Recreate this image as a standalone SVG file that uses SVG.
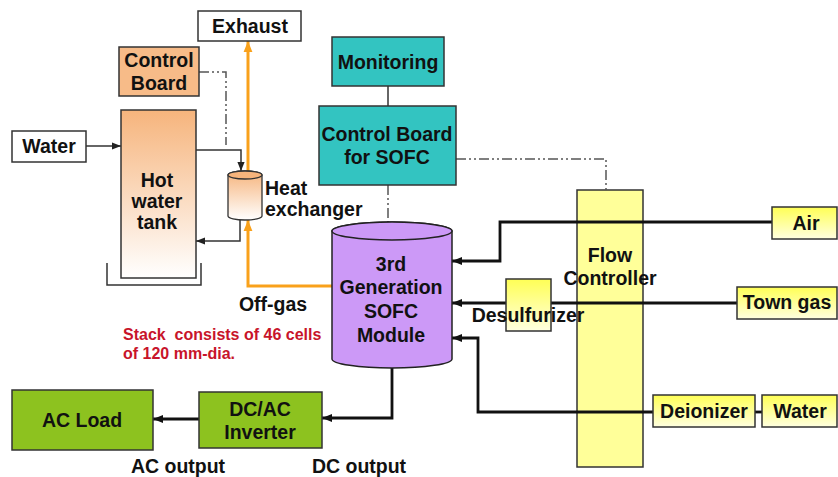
<svg xmlns="http://www.w3.org/2000/svg" width="838" height="477" viewBox="0 0 838 477">
<defs>
<style>
text{font-family:"Liberation Sans",Arial,sans-serif;font-weight:bold;font-size:19.5px;fill:#111;text-anchor:middle}
.red{fill:#C8142A;font-size:16px;text-anchor:start;white-space:pre}
.box{stroke:#333;stroke-width:1.5}
.white{fill:#fff}
.teal{fill:#33C4C1}
.green{fill:#8DC21F}
.purple{fill:#CC99F7}
.line{fill:none;stroke:#111;stroke-width:2.8}
.thin{fill:none;stroke:#333;stroke-width:1.5}
.dash{fill:none;stroke:#555;stroke-width:1.5;stroke-dasharray:10 3 2 3 2 3}
.orange{fill:none;stroke:#F9A11B;stroke-width:3}
</style>
<linearGradient id="gOr" x1="0" y1="0" x2="0" y2="1">
<stop offset="0" stop-color="#F6B47C"/>
<stop offset="1" stop-color="#FFFFFF"/>
</linearGradient>
<linearGradient id="gYel" x1="0" y1="0" x2="0" y2="1">
<stop offset="0" stop-color="#FFFF55"/>
<stop offset="1" stop-color="#FFFFE0"/>
</linearGradient>
<marker id="ab" markerUnits="userSpaceOnUse" markerWidth="10" markerHeight="10" viewBox="0 0 10 10" refX="10" refY="5" orient="auto">
<path d="M0,1 L10,5 L0,9 Z" fill="#111"/>
</marker>
<marker id="as" markerUnits="userSpaceOnUse" markerWidth="9" markerHeight="9" viewBox="0 0 10 10" refX="10" refY="5" orient="auto">
<path d="M0,1 L10,5 L0,9 Z" fill="#222"/>
</marker>
<marker id="ao" markerUnits="userSpaceOnUse" markerWidth="11" markerHeight="11" viewBox="0 0 10 10" refX="10" refY="5" orient="auto">
<path d="M0,1 L10,5 L0,9 Z" fill="#F9A11B"/>
</marker>
</defs>

<g id="flow-controller">
<rect x="577" y="190" width="66" height="277" fill="#FFFF99" class="box"/>
</g>

<g id="connectors">
<path class="thin" d="M86,146 L121,146" marker-end="url(#as)"/>
<path class="thin" d="M196,150 L241,150 L241,171" marker-end="url(#as)"/>
<path class="thin" d="M240,220 L240,241 L196,241" marker-end="url(#as)"/>
<path class="dash" d="M199,72 L226,72 L226,145"/>
<path class="orange" d="M248,172 L248,41" marker-end="url(#ao)"/>
<path class="orange" d="M332,286 L248,286 L248,220" marker-end="url(#ao)"/>
<path class="thin" d="M388,86 L388,106"/>
<path class="dash" d="M388,185 L388,222"/>
<path class="dash" d="M456,159 L606,159 L606,190"/>
<path class="line" d="M772,222 L500,222 L500,261 L452,261" marker-end="url(#ab)"/>
<path class="line" d="M737,303 L551,303"/>
<path class="line" d="M506,303 L452,303" marker-end="url(#ab)"/>
<path class="line" d="M653,412 L478,412 L478,338 L452,338" marker-end="url(#ab)"/>
<path class="line" d="M755,412 L762,412"/>
<path class="line" d="M392,367 L392,418 L322,418" marker-end="url(#ab)"/>
<path class="line" d="M199,419 L153,419" marker-end="url(#ab)"/>
</g>

<g id="exhaust">
<rect x="198" y="11" width="103" height="30" class="box white"/>
<text x="250" y="33">Exhaust</text>
</g>

<g id="control-board">
<rect x="119" y="47" width="80" height="49" fill="#F7BB88" class="box"/>
<text x="159" y="67">Control</text>
<text x="159" y="90">Board</text>
</g>

<g id="water-left">
<rect x="12" y="131" width="74" height="31" class="box white"/>
<text x="49" y="153">Water</text>
</g>

<g id="hot-water-tank">
<rect x="121" y="110" width="75" height="168" fill="url(#gOr)" class="box"/>
<path class="thin" d="M107,263 L107,285 L201,285 L201,263"/>
<text x="157" y="187">Hot</text>
<text x="157" y="208">water</text>
<text x="157" y="229">tank</text>
</g>

<g id="heat-exchanger">
<path d="M228,175 L228,216 A17,4 0 0 0 262,216 L262,175 A17,4 0 0 0 228,175 Z" fill="url(#gOr)" stroke="#333" stroke-width="1.3"/>
<ellipse cx="245" cy="175" rx="17" ry="4" fill="#F6B47C" stroke="#333" stroke-width="1.3"/>
<text x="265" y="195" style="text-anchor:start">Heat</text>
<text x="265" y="216" style="text-anchor:start">exchanger</text>
</g>

<g id="monitoring">
<rect x="332" y="37" width="112" height="49" class="box teal"/>
<text x="388" y="69">Monitoring</text>
</g>

<g id="control-board-sofc">
<rect x="319" y="106" width="137" height="79" class="box teal"/>
<text x="387" y="141">Control Board</text>
<text x="387" y="164">for SOFC</text>
</g>

<g id="sofc-module">
<path d="M332,231 L332,359 A60,9 0 0 0 452,359 L452,231 A60,9 0 0 0 332,231 Z" class="purple" stroke="#222" stroke-width="1.5"/>
<ellipse cx="392" cy="231" rx="60" ry="9" class="purple" stroke="#222" stroke-width="1.5"/>
<text x="391" y="271">3rd</text>
<text x="391" y="294">Generation</text>
<text x="391" y="318">SOFC</text>
<text x="391" y="342">Module</text>
</g>

<g id="flow-controller-label">
<text x="610" y="262">Flow</text>
<text x="610" y="285">Controller</text>
</g>

<g id="air">
<rect x="772" y="207" width="65" height="32" fill="url(#gYel)" class="box"/>
<text x="806" y="230">Air</text>
</g>

<g id="town-gas">
<rect x="737" y="287" width="100" height="32" fill="url(#gYel)" class="box"/>
<text x="787" y="309">Town gas</text>
</g>

<g id="desulfurizer">
<rect x="506" y="279" width="45" height="52" fill="url(#gYel)" class="box"/>
<text x="528" y="322">Desulfurizer</text>
</g>

<g id="deionizer">
<rect x="653" y="395" width="102" height="32" fill="url(#gYel)" class="box"/>
<text x="704" y="418">Deionizer</text>
</g>

<g id="water-right">
<rect x="762" y="395" width="75" height="32" fill="url(#gYel)" class="box"/>
<text x="800" y="418">Water</text>
</g>

<g id="off-gas-label">
<text x="273" y="311">Off-gas</text>
</g>

<g id="stack-note">
<text class="red" x="123" y="340" xml:space="preserve">Stack  consists of 46 cells</text>
<text class="red" x="123" y="359">of 120 mm-dia.</text>
</g>

<g id="ac-load">
<rect x="12" y="390" width="141" height="60" class="box green"/>
<text x="82" y="427">AC Load</text>
</g>

<g id="dc-ac-inverter">
<rect x="199" y="392" width="123" height="56" class="box green"/>
<text x="260" y="416">DC/AC</text>
<text x="260" y="439">Inverter</text>
</g>

<g id="output-labels">
<text x="178" y="473">AC output</text>
<text x="359" y="473">DC output</text>
</g>
</svg>
